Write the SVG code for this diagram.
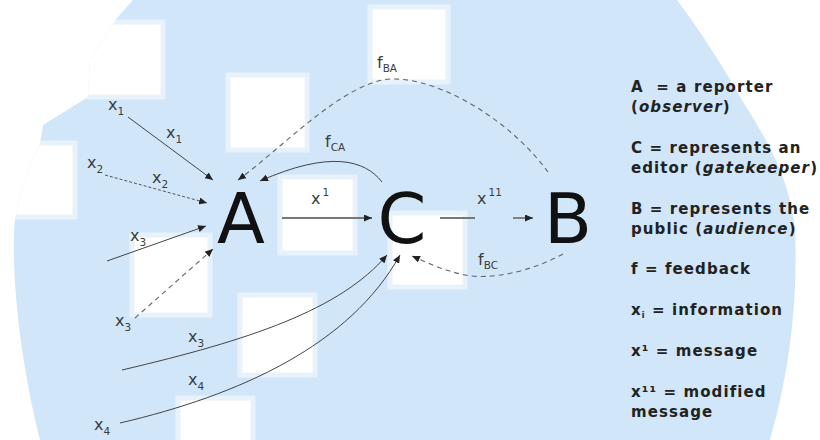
<svg xmlns="http://www.w3.org/2000/svg" width="820" height="440" viewBox="0 0 820 440">
<defs>
<style>
.sq{fill:#ffffff;stroke:#e8f2fb;stroke-width:5}
.node{font-family:"DejaVu Sans","Liberation Sans",sans-serif;font-size:70px;fill:#111;text-anchor:middle}
.lbl{font-family:"DejaVu Sans","Liberation Sans",sans-serif;font-size:16px;fill:#3c3c3c}
.sub{font-size:10.5px}
.leg{font-family:"DejaVu Sans","Liberation Sans",sans-serif;font-size:15px;font-weight:bold;fill:#222;letter-spacing:1.1px}
.ln{fill:none;stroke:#444;stroke-width:1}
.dsh{fill:none;stroke:#666;stroke-width:1.1;stroke-dasharray:5 4}
.dot{fill:none;stroke:#555;stroke-width:1;stroke-dasharray:3 2}
.thick{fill:none;stroke:#777;stroke-width:1.8}
</style>
<path id="blobShape" d="M133,0 L677,0 C700,30 725,70 745,105 C770,145 790,180 795,230 C798,300 790,370 770,440 L40,440 C25,380 12,300 14,230 C18,190 30,165 40,143 L43,125 L88,97 L90,60 L117,18 Z"/>
<clipPath id="blobClip"><use href="#blobShape"/></clipPath>
<marker id="ah" viewBox="0 0 8 7" refX="8" refY="3.5" markerWidth="8" markerHeight="7" markerUnits="userSpaceOnUse" orient="auto">
<path d="M0,0 L8,3.5 L0,7 z" fill="#222"/>
</marker>
</defs>

<g id="background">
<use href="#blobShape" fill="#d1e6f9"/>
<g clip-path="url(#blobClip)">
<rect class="sq" x="85" y="22" width="78" height="75"/>
<rect class="sq" x="228" y="75" width="79" height="75"/>
<rect class="sq" x="370" y="7" width="78" height="75"/>
<rect class="sq" x="280" y="177" width="75" height="76"/>
<rect class="sq" x="390" y="213" width="75" height="74"/>
<rect class="sq" x="132" y="235" width="78" height="80"/>
<rect class="sq" x="240" y="295" width="75" height="80"/>
<rect class="sq" x="178" y="398" width="75" height="50"/>
<rect class="sq" x="-5" y="143" width="80" height="74"/>
</g>
</g>

<g id="connectors">
<line class="ln" x1="128" y1="117" x2="213" y2="180" marker-end="url(#ah)"/>
<line class="dot" x1="105" y1="175" x2="207" y2="203" marker-end="url(#ah)"/>
<line class="ln" x1="107" y1="261" x2="206" y2="226" marker-end="url(#ah)"/>
<line class="dsh" x1="135" y1="318" x2="213" y2="249" marker-end="url(#ah)"/>
<path class="ln" d="M122,370 C250,340 340,310 387,255" marker-end="url(#ah)"/>
<path class="ln" d="M120,423 C240,395 350,345 400,255" marker-end="url(#ah)"/>
<line class="thick" x1="282" y1="218" x2="372" y2="218" marker-end="url(#ah)"/>
<line class="thick" x1="440" y1="218" x2="475" y2="218"/>
<line class="thick" x1="513" y1="218" x2="533" y2="218" marker-end="url(#ah)"/>
<path class="dsh" d="M548,172 C510,120 440,78 392,79 C345,80 280,150 238,180" marker-end="url(#ah)"/>
<path class="ln" d="M382,182 C365,160 330,150 260,181" marker-end="url(#ah)"/>
<path class="dsh" d="M563,254 C530,272 490,280 465,275 C445,271 428,263 412,256" marker-end="url(#ah)"/>
</g>

<g id="edge-labels">
<text class="lbl" x="108" y="110">x<tspan class="sub" dy="5">1</tspan></text>
<text class="lbl" x="166" y="138">x<tspan class="sub" dy="5">1</tspan></text>
<text class="lbl" x="87" y="168">x<tspan class="sub" dy="5">2</tspan></text>
<text class="lbl" x="152" y="183">x<tspan class="sub" dy="5">2</tspan></text>
<text class="lbl" x="130" y="241">x<tspan class="sub" dy="5">3</tspan></text>
<text class="lbl" x="115" y="326">x<tspan class="sub" dy="5">3</tspan></text>
<text class="lbl" x="188" y="342">x<tspan class="sub" dy="5">3</tspan></text>
<text class="lbl" x="188" y="385">x<tspan class="sub" dy="5">4</tspan></text>
<text class="lbl" x="94" y="430">x<tspan class="sub" dy="5">4</tspan></text>
<text class="lbl" x="311" y="204">x<tspan class="sub" dx="2" dy="-8">1</tspan></text>
<text class="lbl" x="477" y="204">x<tspan class="sub" dx="2" dy="-8">11</tspan></text>
<text class="lbl" x="325" y="147">f<tspan class="sub" dy="4">CA</tspan></text>
<text class="lbl" x="377" y="68">f<tspan class="sub" dy="4">BA</tspan></text>
<text class="lbl" x="478" y="265">f<tspan class="sub" dy="4">BC</tspan></text>
</g>

<g id="node-A"><text class="node" x="241" y="243">A</text></g>
<g id="node-C"><text class="node" x="402" y="243">C</text></g>
<g id="node-B"><text class="node" x="568" y="243">B</text></g>

<g id="legend">
<text class="leg" x="631" y="92" xml:space="preserve">A  = a reporter</text>
<text class="leg" x="631" y="112">(<tspan font-style="italic">observer</tspan>)</text>
<text class="leg" x="631" y="153">C = represents an</text>
<text class="leg" x="631" y="173">editor (<tspan font-style="italic">gatekeeper</tspan>)</text>
<text class="leg" x="631" y="214">B = represents the</text>
<text class="leg" x="631" y="234">public (<tspan font-style="italic">audience</tspan>)</text>
<text class="leg" x="631" y="274">f = feedback</text>
<text class="leg" x="631" y="315">x<tspan font-size="8" dy="3">i</tspan><tspan dy="-3"> = information</tspan></text>
<text class="leg" x="631" y="356">x¹ = message</text>
<text class="leg" x="631" y="397">x¹¹ = modified</text>
<text class="leg" x="631" y="417">message</text>
</g>
</svg>
